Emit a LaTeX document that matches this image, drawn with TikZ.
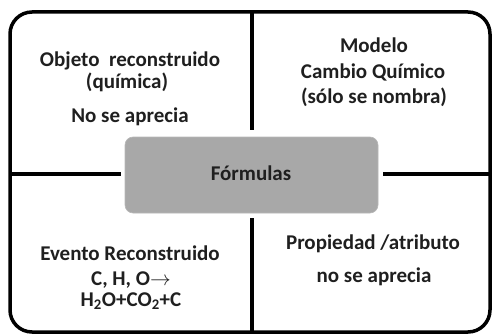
\documentclass[tikz,border=0pt]{standalone}
\usepackage{fontspec}
\setmainfont{Carlito}
\begin{document}
\begin{tikzpicture}[x=1pt,y=-1pt,
  frame/.style={line width=3.5pt,draw=black},
  divider/.style={line width=3.5pt,draw=black},
  lbl/.style={anchor=base,inner sep=0pt,text=black!88,font=\bfseries\fontsize{21}{25}\selectfont},
  centerbox/.style={fill=black!34,draw=black!28,line width=0.6pt,rounded corners=8pt}]
\useasboundingbox (0,0) rectangle (492,334);
\draw[frame,rounded corners=22pt] (10,12) rectangle (490,332);
% center box
\node[centerbox,minimum width=253pt,minimum height=76pt,inner sep=0pt] (fbox) at (251.5,175) {};
\node[lbl] (f) at (251,180) {Fórmulas};
% dividers
\coordinate (vt) at (252,12);
\coordinate (vtb) at (252,130);
\coordinate (vb) at (252,218);
\coordinate (vbb) at (252,332);
\coordinate (hl) at (10,174);
\coordinate (hle) at (121,174);
\coordinate (hr) at (383,174);
\coordinate (hre) at (490,174);
\draw[divider] (vt) -- (vtb);
\draw[divider] (vb) -- (vbb);
\draw[divider] (hl) -- (hle);
\draw[divider] (hr) -- (hre);
% top-left
\node[lbl] (tl1) at (130,67) {Objeto\ \ reconstruido};
\node[lbl] (tl2) at (127,89) {(química)};
\node[lbl] (tl3) at (130,123) {No se aprecia};
% top-right
\node[lbl] (tr1) at (374,53) {Modelo};
\node[lbl] (tr2) at (373,79) {Cambio Químico};
\node[lbl] (tr3) at (374,104) {(sólo se nombra)};
% bottom-left
\node[lbl] (bl1) at (130,260) {Evento Reconstruido};
\node[lbl] (bl2) at (131,285) {C, H, O$\rightarrow$};
\node[lbl] (bl3) at (131,306) {H\textsubscript{2}O+CO\textsubscript{2}+C};
% bottom-right
\node[lbl] (br1) at (373,249) {Propiedad /atributo};
\node[lbl] (br2) at (374,282) {no se aprecia};
\end{tikzpicture}
\end{document}
